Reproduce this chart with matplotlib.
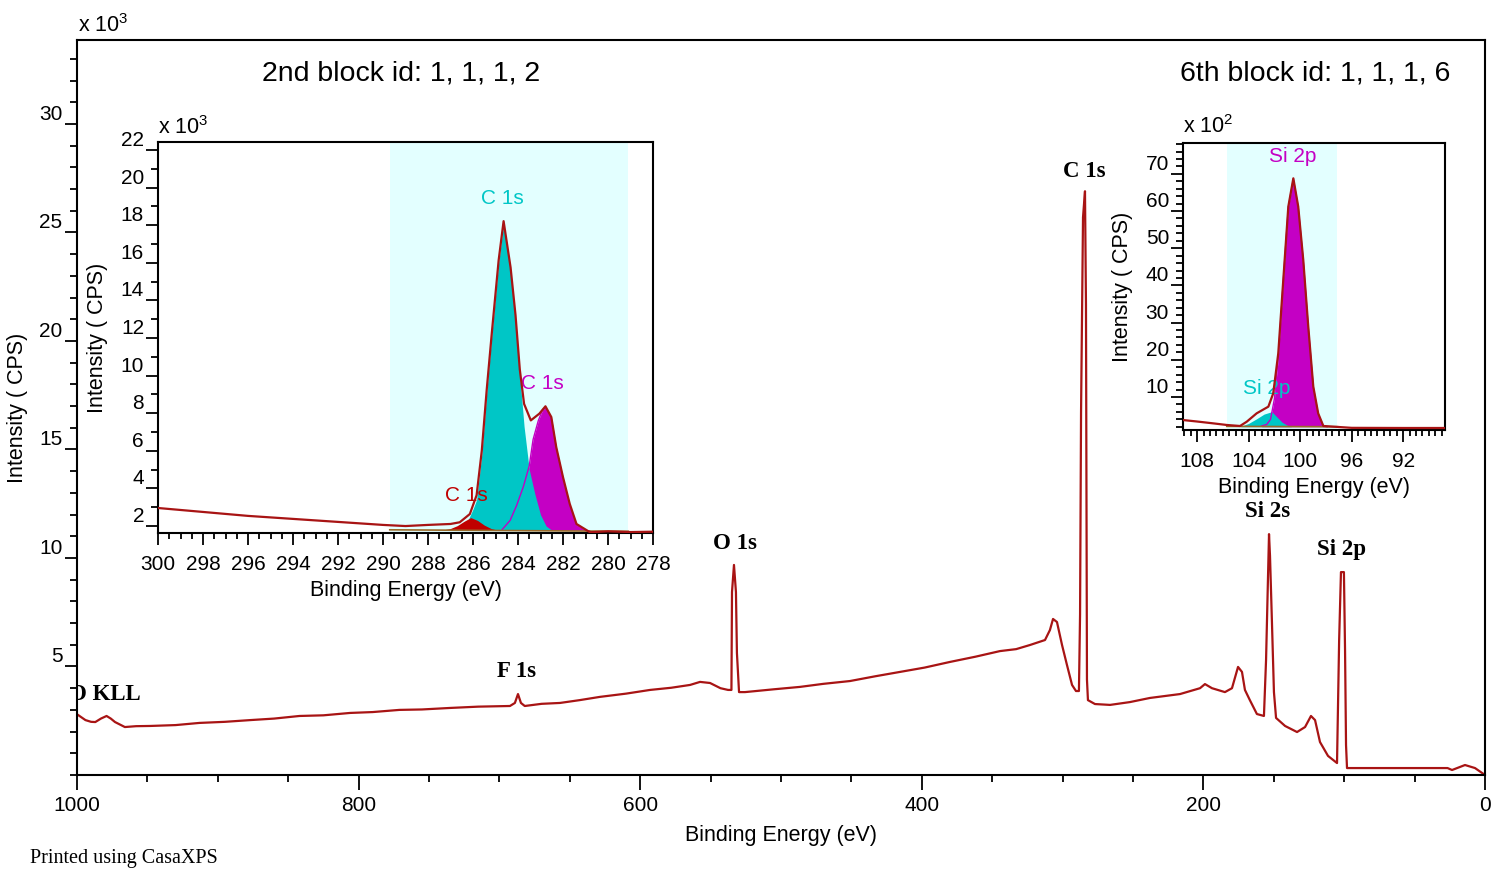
import numpy as np
import matplotlib.pyplot as plt
from matplotlib.ticker import MultipleLocator

plt.rcParams['font.family'] = ['Liberation Sans', 'DejaVu Sans']
plt.rcParams['mathtext.default'] = 'regular'

# Survey spectrum: binding energy (eV), intensity (x 10^3 CPS)
survey_be = [1000, 994, 990, 987, 983, 979, 976, 973, 966, 958, 948, 930, 913, 895,
             877, 860, 842, 825, 806, 790, 771, 755, 735, 715, 692.5, 689, 686.8,
             684.7, 682, 670, 657, 643, 628.6, 610, 593, 578, 564.6, 557.5, 550.4,
             543, 537.6, 535.2, 534.8, 533.4, 532, 531.3, 529.8, 525.6, 505, 486.5,
             470, 451, 433, 415.5, 398, 380, 362, 344.5, 333, 323.2, 312.5, 309,
             306.8, 304, 300.4, 296.9, 293.3, 290.5, 288.4, 287.6, 286.9, 285.5,
             284.1, 283.4, 282.7, 282, 277, 266.3, 252.2, 238, 216.6, 202.4, 198.9,
             193.9, 184.7, 179.7, 175.4, 172.6, 170.5, 167, 162, 157, 155.5, 153.4,
             152.7, 151.3, 149.9, 148.4, 142, 133.5, 127.8, 123.6, 120.7, 117.2,
             111.5, 105.1, 103.6, 102.3, 100.2, 99.4, 98.7, 98, 81.7, 60.4, 26.6,
             23.4, 14.2, 7.1, 0]
survey_cps = [2.8, 2.53, 2.45, 2.44, 2.6, 2.72, 2.6, 2.44, 2.21, 2.25, 2.26, 2.3, 2.4, 2.45,
              2.53, 2.6, 2.72, 2.75, 2.86, 2.9, 3.0, 3.02, 3.09, 3.15, 3.18, 3.32, 3.73,
              3.32, 3.18, 3.28, 3.32, 3.45, 3.6, 3.75, 3.92, 4.02, 4.15, 4.29, 4.24,
              4.0, 3.92, 3.92, 8.43, 9.68, 8.43, 5.62, 3.82, 3.82, 3.95, 4.06,
              4.2, 4.33, 4.55, 4.75, 4.95, 5.21, 5.45, 5.71, 5.8, 5.99, 6.22, 6.68,
              7.19, 7.05, 5.99, 5.07, 4.15, 3.87, 3.87, 7.4, 16.7, 25.7,
              26.9, 21.7, 4.4, 3.45, 3.27, 3.23, 3.36, 3.55, 3.73, 4.0, 4.19,
              4.0, 3.82, 4.0, 4.98, 4.75, 3.92, 3.45, 2.81, 2.72, 5.3, 11.1,
              10.1, 7.0, 3.82, 2.63, 2.26, 1.98, 2.21, 2.72, 2.53, 1.52,
              0.88, 0.55, 6.2, 9.35, 9.35, 5.76, 1.38, 0.32, 0.32, 0.32, 0.32,
              0.23, 0.46, 0.32, 0.0]

survey_labels = ['O KLL', 'F 1s', 'O 1s', 'C 1s', 'Si 2s', 'Si 2p']
survey_label_be = [980, 688.2, 532.7, 284.8, 154.1, 101.6]
survey_label_y = [3.73, 4.75, 10.65, 27.83, 12.12, 10.37]

# Block 2: C 1s region (x 10^3 CPS)
c1s_be = [300, 298, 296, 294, 292, 290, 289, 288, 287, 286.59, 286.14, 285.84, 285.61,
          285.39, 285.16, 284.86, 284.64, 284.33, 284.11, 283.92, 283.73, 283.43,
          283.05, 282.78, 282.52, 282.3, 282.0, 281.7, 281.4, 280.8, 280, 279, 278]
c1s_env = [2.96, 2.75, 2.54, 2.38, 2.22, 2.06, 2.0, 2.06, 2.11, 2.2, 2.64, 3.64, 6.0,
           9.26, 12.32, 16.14, 18.22, 15.76, 13.22, 10.33, 8.5, 7.62,
           7.98, 8.37, 7.8, 6.2, 4.6, 3.18, 2.11, 1.67, 1.72, 1.68, 1.7]
c1s_main_be = [286.6, 286.3, 286.0, 285.84, 285.61, 285.39, 285.16, 284.86, 284.64,
               284.33, 284.11, 283.92, 283.73, 283.5, 283.25, 283.0, 282.75, 282.5]
c1s_main = [1.8, 2.1, 2.9, 3.4, 5.8, 9.1, 12.2, 16.0, 18.1,
            15.6, 13.0, 10.0, 7.3, 5.0, 3.7, 2.6, 2.0, 1.78]
c1s_low_be = [284.7, 284.35, 284.06, 283.76, 283.5, 283.33, 283.1, 282.9, 282.78,
              282.52, 282.3, 282.0, 281.7, 281.4, 281.1, 280.8]
c1s_low = [1.82, 2.3, 3.1, 4.1, 5.2, 6.6, 7.6, 8.2, 8.3,
           7.75, 6.15, 4.55, 3.1, 2.05, 1.8, 1.72]
c1s_high_be = [287.4, 287.0, 286.7, 286.4, 286.1, 285.8, 285.5, 285.2, 284.9]
c1s_high = [1.78, 1.87, 2.02, 2.25, 2.45, 2.3, 2.05, 1.87, 1.78]
c1s_bg_be = [289.7, 279.1]
c1s_bg = [1.8, 1.72]
c1s_region = (289.7, 279.1)

# Block 6: Si 2p region (x 10^2 CPS)
si_be = [109.1, 108.0, 106.74, 105.7, 104.67, 104.15, 103.38, 102.47, 102.09, 101.7,
         101.31, 100.92, 100.53, 100.15, 99.76, 99.37, 98.98, 98.6, 98.2, 96, 92, 88.75]
si_env = [3.8, 3.4, 2.9, 2.47, 2.2, 3.35, 5.6, 7.4, 11.0, 21.76,
          41.5, 61.2, 68.8, 61.2, 46.9, 28.9, 12.8, 5.6, 2.2, 1.7, 1.66, 1.66]
si_main_be = [103.0, 102.6, 102.3, 102.0, 101.7, 101.31, 100.92, 100.53, 100.15, 99.76,
              99.37, 98.98, 98.6, 98.2, 97.9]
si_main = [2.2, 2.6, 4.0, 9.5, 20.5, 41.3, 61.0, 68.6, 61.0, 46.7,
           28.7, 12.6, 5.4, 2.2, 2.0]
si_ox_be = [104.6, 104.0, 103.4, 102.8, 102.2, 101.8, 101.4, 101.0, 100.7]
si_ox = [2.1, 2.9, 4.1, 5.4, 6.05, 4.6, 3.2, 2.4, 2.1]
si_bg_be = [105.7, 97.1]
si_bg = [2.1, 2.0]
si_region = (105.7, 97.1)

red = '#A81414'
cyan = '#00C6C6'
magenta = '#C400C4'
pale = '#E3FFFF'
serif = ['Liberation Serif', 'DejaVu Serif']

W, H = 1492, 873
fig = plt.figure(figsize=(W / 100, H / 100), dpi=100)


def style_axes(a, xmin, ymin, xlen, ylen):
    for s in a.spines.values():
        s.set_linewidth(1.5)
    a.xaxis.set_minor_locator(MultipleLocator(xmin))
    a.yaxis.set_minor_locator(MultipleLocator(ymin))
    a.tick_params(which='both', direction='out', width=1.3, labelsize=15,
                  top=False, right=False)
    a.tick_params(axis='x', which='major', length=xlen[0], pad=xlen[2])
    a.tick_params(axis='x', which='minor', length=xlen[1])
    a.tick_params(axis='y', which='major', length=ylen[0], pad=ylen[2])
    a.tick_params(axis='y', which='minor', length=ylen[1])
    for lbl in a.get_yticklabels():
        lbl.set_verticalalignment('bottom')


# main survey axes
ax = fig.add_axes([77 / W, 1 - 775 / H, 1408 / W, 735 / H])
ax.plot(survey_be, survey_cps, color=red, lw=1.6)
ax.set_xlim(1000, 0)
ax.set_ylim(0, 33.87)
ax.set_xticks(np.arange(1000, -1, -200))
ax.set_yticks(np.arange(5, 31, 5))
style_axes(ax, 50, 1, (11, 5, 4), (9, 5, 1.5))
ax.set_xlabel('Binding Energy (eV)', fontsize=15.5, labelpad=7)
ax.set_ylabel('Intensity ( CPS)', fontsize=15.5, labelpad=8)
for t, bx, by in zip(survey_labels, survey_label_be, survey_label_y):
    ax.text(bx, by, t, ha='center', va='center', family=serif, fontweight='bold',
            fontsize=16.5, clip_on=True)

fig.text(78 / W, 1 - 37 / H, 'x 10$^3$', fontsize=15.5, va='bottom')
fig.text(262 / W, 1 - 73 / H, '2nd block id: 1, 1, 1, 2', fontsize=20.5, va='center')
fig.text(1450 / W, 1 - 73 / H, '6th block id: 1, 1, 1, 6', fontsize=20.5, va='center',
         ha='right')
fig.text(30 / W, 1 - 858 / H, 'Printed using CasaXPS', fontsize=14.5, va='center',
         family=serif)

# inset: C 1s
a1 = fig.add_axes([158 / W, 1 - 533 / H, 495 / W, 391 / H])
a1.axvspan(*c1s_region, color=pale, lw=0, zorder=0)
a1.fill_between(c1s_low_be, c1s_low, 1.78, color=magenta, lw=0, zorder=1)
a1.fill_between(c1s_main_be, c1s_main, 1.78, color=cyan, lw=0, zorder=2)
a1.fill_between(c1s_high_be, c1s_high, 1.78, color='#C00000', lw=0, zorder=3)
a1.plot(c1s_low_be, c1s_low, color=magenta, lw=1, zorder=4)
a1.plot(c1s_bg_be, c1s_bg, color='#9A6A2A', lw=1.2, zorder=4)
a1.plot(c1s_be, c1s_env, color=red, lw=1.6, zorder=5)
a1.set_xlim(300, 278)
a1.set_ylim(1.63, 22.43)
a1.set_xticks(np.arange(300, 277, -2))
a1.set_yticks(np.arange(2, 23, 2))
style_axes(a1, 0.5, 1, (8.5, 4.3, 7), (8.5, 5, 1.5))
a1.set_xlabel('Binding Energy (eV)', fontsize=15.5, labelpad=5)
a1.set_ylabel('Intensity ( CPS)', fontsize=15.5, labelpad=9)
a1.text(284.71, 19.44, 'C 1s', color=cyan, fontsize=15, ha='center', va='center')
a1.text(282.93, 9.58, 'C 1s', color=magenta, fontsize=15, ha='center', va='center')
a1.text(286.31, 3.6, 'C 1s', color='#C00000', fontsize=15, ha='center', va='center')
fig.text(158 / W, 1 - 139 / H, 'x 10$^3$', fontsize=15.5, va='bottom')

# inset: Si 2p
a2 = fig.add_axes([1183 / W, 1 - 430 / H, 262 / W, 287 / H])
a2.axvspan(*si_region, color=pale, lw=0, zorder=0)
a2.fill_between(si_main_be, si_main, 2.0, color=magenta, lw=0, zorder=1)
a2.fill_between(si_ox_be, si_ox, 2.0, color=cyan, lw=0, zorder=2)
a2.plot(si_main_be, si_main, color=magenta, lw=1, zorder=3)
a2.plot(si_bg_be, si_bg, color='#9A6A2A', lw=1.2, zorder=4)
a2.plot(si_be, si_env, color=red, lw=1.6, zorder=5)
a2.set_xlim(109.1, 88.75)
a2.set_ylim(1.12, 78.3)
a2.set_xticks(np.arange(108, 91, -4))
a2.set_yticks(np.arange(10, 71, 10))
style_axes(a2, 0.5, 2, (8.5, 4.3, 7), (8.5, 5, 1.5))
a2.set_xlabel('Binding Energy (eV)', fontsize=15.5, labelpad=5)
a2.set_ylabel('Intensity ( CPS)', fontsize=15.5, labelpad=9)
a2.text(100.56, 74.8, 'Si 2p', color=magenta, fontsize=15, ha='center', va='center')
a2.text(102.57, 12.4, 'Si 2p', color=cyan, fontsize=15, ha='center', va='center')
fig.text(1183 / W, 1 - 138 / H, 'x 10$^2$', fontsize=15.5, va='bottom')

fig.savefig('out.png', dpi=100)
